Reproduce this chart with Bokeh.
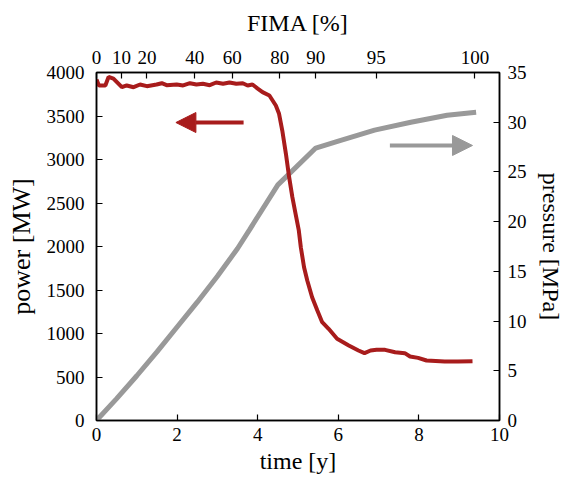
from bokeh.plotting import figure
from bokeh.models import LinearAxis, Range1d, FixedTicker, Arrow, NormalHead
from bokeh.embed import file_html
from bokeh.resources import INLINE

# ---- data ----
power_t = [0, 0.06, 0.22, 0.30, 0.42, 0.63, 0.75, 0.92, 1.08, 1.25, 1.49, 1.62, 1.74, 1.99,
           2.15, 2.32, 2.48, 2.64, 2.81, 2.97, 3.14, 3.30, 3.47, 3.63, 3.75, 3.87, 4.0, 4.12,
           4.29, 4.45, 4.53, 4.61, 4.70, 4.78, 4.86, 4.94, 5.02, 5.07, 5.15, 5.23, 5.35, 5.48,
           5.60, 5.76, 5.97, 6.26, 6.50, 6.65, 6.80, 6.95, 7.16, 7.41, 7.65, 7.78, 7.98, 8.19,
           8.64, 8.97, 9.33]
power_mw = [3920, 3850, 3851, 3950, 3930, 3831, 3851, 3831, 3862, 3843, 3862, 3877, 3854, 3862,
            3851, 3877, 3862, 3870, 3854, 3885, 3870, 3885, 3870, 3877, 3851, 3862, 3815, 3774,
            3736, 3621, 3525, 3333, 3065, 2797, 2567, 2376, 2184, 1992, 1762, 1609, 1417, 1264,
            1130, 1054, 939, 862, 805, 774, 805, 812, 812, 785, 774, 736, 720, 690,
            678, 678, 682]

pressure_t = [0, 0.5, 1.0, 1.5, 2.0, 2.5, 3.0, 3.5, 3.8, 4.5, 5.44, 6.0, 6.9, 7.8, 8.7, 9.42]
pressure_mpa = [0, 2.2, 4.5, 6.9, 9.4, 11.9, 14.5, 17.3, 19.2, 23.7, 27.4, 28.1, 29.2, 30.0, 30.7, 31.0]

fima_tick_t = [0, 0.62, 1.25, 2.44, 3.37, 4.55, 5.44, 6.94, 9.39]
fima_labels = ["0", "10", "20", "40", "60", "80", "90", "95", "100"]

RED = "#A81C1C"
GRAY = "#999999"
FONT = "Liberation Serif"
TICK_SIZE = "19px"
LABEL_SIZE = "24px"

p = figure(width=566, height=478, output_backend="svg", toolbar_location=None,
           x_range=Range1d(0, 10), y_range=Range1d(0, 4000),
           min_border_left=96, min_border_right=64, min_border_top=72, min_border_bottom=58,
           x_axis_location=None, y_axis_location=None)
p.extra_y_ranges = {"pressure": Range1d(0, 35)}
p.xgrid.visible = False
p.ygrid.visible = False
p.outline_line_color = "black"
p.outline_line_width = 1.5
p.background_fill_color = "white"
p.border_fill_color = "white"


def style(ax):
    ax.major_label_text_font = FONT
    ax.major_label_text_font_size = TICK_SIZE
    ax.major_label_text_color = "black"
    ax.axis_label_text_font = FONT
    ax.axis_label_text_font_size = LABEL_SIZE
    ax.axis_label_text_font_style = "normal"
    ax.axis_label_text_color = "black"
    ax.major_tick_in = 6
    ax.major_tick_out = 0
    ax.minor_tick_in = 0
    ax.minor_tick_out = 0
    ax.axis_line_width = 1.5
    ax.major_tick_line_width = 1.2
    ax.axis_line_color = "black"
    ax.major_tick_line_color = "black"


bottom = LinearAxis(axis_label="time [y]", ticker=FixedTicker(ticks=[0, 2, 4, 6, 8, 10]))
style(bottom)
bottom.major_label_standoff = 7
bottom.axis_label_standoff = 4
p.add_layout(bottom, "below")

left = LinearAxis(axis_label="power [MW]", ticker=FixedTicker(ticks=list(range(0, 4001, 500))))
style(left)
left.axis_label_text_font_size = "26px"
left.major_label_standoff = 12
left.axis_label_standoff = 8
p.add_layout(left, "left")

right = LinearAxis(y_range_name="pressure", axis_label="pressure [MPa]",
                   ticker=FixedTicker(ticks=list(range(0, 36, 5))))
style(right)
right.major_label_standoff = 8
right.axis_label_standoff = 8
p.add_layout(right, "right")

top = LinearAxis(axis_label="FIMA [%]", ticker=FixedTicker(ticks=fima_tick_t),
                 major_label_overrides={t: l for t, l in zip(fima_tick_t, fima_labels)})
style(top)
top.major_label_standoff = 9
top.axis_label_standoff = 12
p.add_layout(top, "above")

p.line(pressure_t, pressure_mpa, y_range_name="pressure", line_color=GRAY, line_width=5)
p.line(power_t, power_mw, line_color=RED, line_width=4)

p.add_layout(Arrow(x_start=3.65, y_start=3425, x_end=1.97, y_end=3425,
                   line_color=RED, line_width=4,
                   end=NormalHead(size=20, fill_color=RED, line_color=RED, line_width=1)))
p.add_layout(Arrow(x_start=7.28, y_start=27.66, x_end=9.33, y_end=27.66,
                   y_range_name="pressure", line_color=GRAY, line_width=4,
                   end=NormalHead(size=20, fill_color=GRAY, line_color=GRAY, line_width=1)))

open("out.html", "w").write(file_html(p, INLINE))
